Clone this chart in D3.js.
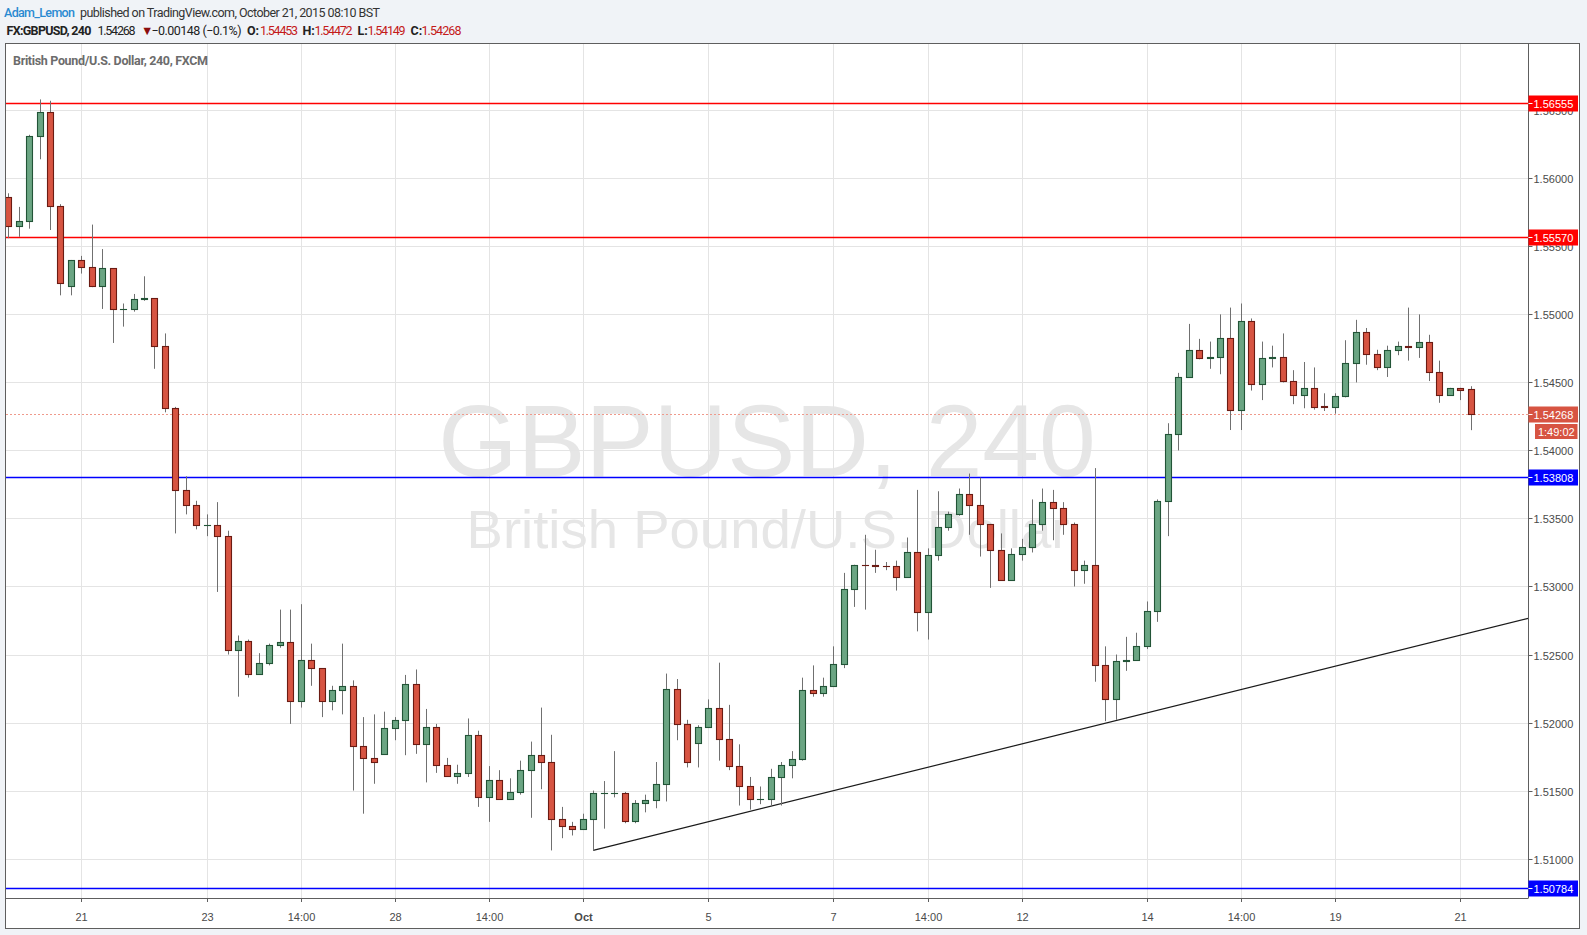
<!DOCTYPE html>
<html><head><meta charset="utf-8">
<script src="https://cdn.jsdelivr.net/npm/d3@7"></script>
<style>
html,body{margin:0;padding:0;background:#f0f3f7;}
svg{display:block;}
</style></head><body>
<svg id="chart" width="1587" height="935"></svg>
<script>
// ---------------- DATA ----------------
const firstBar = -7; // bar index of first candle (0 = first 4h bar of 21 Sep)
const opens = [
1.5586,1.5565,1.5569,1.5631,1.5649,1.5580,1.5521,
1.5540,1.5535,1.5521,1.5534,1.5504,1.5504,1.5511,1.5512,1.5477,1.5431,1.5371,1.5360,
1.5345,1.5345,1.5337,1.5253,1.5260,1.5236,1.5244,1.5257,1.5259,1.5216,1.5246,1.5240,
1.5216,1.5224,1.5227,1.5183,1.5174,1.5177,1.5196,1.5202,1.5228,1.5184,1.5197,1.5169,
1.5161,1.5163,1.5191,1.5145,1.5158,1.5144,1.5149,1.5165,1.5176,1.5171,1.5129,1.5124,
1.5122,1.5129,1.5148,1.5148,1.5148,1.5128,1.5141,1.5143,1.5155,1.5225,1.5199,1.5185,
1.5197,1.5211,1.5188,1.5168,1.5153,1.5144,1.5144,1.5160,1.5169,1.5173,1.5224,1.5222,
1.5227,1.5243,1.5298,1.5316,1.5316,1.5315,1.5315,1.5307,1.5325,1.5281,1.5323,1.5344,
1.5353,1.5368,1.5360,1.5346,1.5327,1.5305,1.5324,1.5329,1.5346,1.5362,1.5358,1.5346,
1.5312,1.5316,1.5242,1.5217,1.5245,1.5246,1.5256,1.5282,1.5363,1.5412,1.5454,1.5474,
1.5468,1.5469,1.5483,1.5430,1.5495,1.5449,1.5468,1.5469,1.5451,1.5441,1.5446,1.5433,
1.5432,1.5440,1.5464,1.5487,1.5471,1.5461,1.5474,1.5477,1.5476,1.5480,1.5458,1.5441,
1.5446,1.54453];
const highs = [
1.5589,1.5579,1.5632,1.5658,1.5657,1.5581,1.5540,
1.5543,1.5566,1.5548,1.5534,1.5508,1.5515,1.5528,1.5512,1.5486,1.5432,1.5381,1.5363,
1.5353,1.5362,1.5341,1.5264,1.5261,1.5251,1.5258,1.5283,1.5283,1.5287,1.5258,1.5240,
1.5227,1.5258,1.5231,1.5204,1.5206,1.5208,1.5204,1.5235,1.5239,1.5210,1.5199,1.5174,
1.5169,1.5203,1.5194,1.5168,1.5165,1.5159,1.5172,1.5186,1.5211,1.5191,1.5138,1.5127,
1.5133,1.5150,1.5157,1.5179,1.5149,1.5143,1.5147,1.5171,1.5236,1.5232,1.5202,1.5198,
1.5217,1.5244,1.5213,1.5184,1.5160,1.5153,1.5166,1.5171,1.5179,1.5233,1.5242,1.5233,
1.5256,1.5310,1.5316,1.5338,1.5327,1.5318,1.5319,1.5336,1.5371,1.5328,1.5370,1.5355,
1.5372,1.5383,1.5380,1.5346,1.5339,1.5328,1.5335,1.5364,1.5372,1.5371,1.5362,1.5347,
1.5319,1.5387,1.5256,1.5250,1.5263,1.5266,1.5289,1.5364,1.5420,1.5457,1.5493,1.5482,
1.5480,1.5500,1.5505,1.5508,1.5497,1.5480,1.5477,1.5486,1.5459,1.5465,1.5461,1.5442,
1.5442,1.5481,1.5496,1.5490,1.5474,1.5477,1.5480,1.5505,1.5500,1.5485,1.5466,1.5446,
1.5446,1.54472];
const lows = [
1.5556,1.5557,1.5563,1.5614,1.5562,1.5514,1.5514,
1.5530,1.5520,1.5504,1.5479,1.5491,1.5502,1.5510,1.5460,1.5428,1.5339,1.5353,1.5342,
1.5337,1.5296,1.5250,1.5219,1.5233,1.5236,1.5242,1.5255,1.5199,1.5211,1.5227,1.5204,
1.5209,1.5206,1.5150,1.5133,1.5155,1.5177,1.5187,1.5176,1.5177,1.5156,1.5163,1.5160,
1.5155,1.5160,1.5138,1.5127,1.5144,1.5144,1.5147,1.5130,1.5151,1.5106,1.5115,1.5117,
1.5122,1.5106,1.5122,1.5145,1.5126,1.5126,1.5134,1.5137,1.5142,1.5187,1.5167,1.5167,
1.5197,1.5172,1.5165,1.5139,1.5136,1.5140,1.5139,1.5139,1.5159,1.5172,1.5219,1.5219,
1.5227,1.5240,1.5285,1.5283,1.5310,1.5312,1.5297,1.5307,1.5267,1.5261,1.5319,1.5341,
1.5352,1.5338,1.5322,1.5299,1.5305,1.5305,1.5319,1.5325,1.5341,1.5334,1.5338,1.5300,
1.5302,1.5230,1.5201,1.5202,1.5238,1.5246,1.5254,1.5274,1.5337,1.5400,1.5454,1.5467,
1.5460,1.5456,1.5415,1.5415,1.5444,1.5437,1.5461,1.5450,1.5434,1.5431,1.5430,1.5429,
1.5427,1.5439,1.5450,1.5463,1.5459,1.5454,1.5470,1.5466,1.5468,1.5451,1.5435,1.5440,
1.5437,1.54149];
const closes = [
1.5565,1.5569,1.5631,1.5649,1.5580,1.5523,1.5540,
1.5535,1.5521,1.5534,1.5504,1.55041,1.5511,1.5512,1.5477,1.5431,1.5371,1.5360,1.5345,
1.53451,1.5337,1.5253,1.5260,1.5236,1.5244,1.5257,1.5259,1.5216,1.5246,1.5240,1.5216,
1.5224,1.5227,1.5183,1.5174,1.5171,1.5196,1.5202,1.5228,1.5184,1.5197,1.5169,1.5161,
1.5163,1.5191,1.5145,1.5158,1.5144,1.5149,1.5165,1.5176,1.5171,1.5129,1.5124,1.5122,
1.5129,1.5148,1.51481,1.51481,1.5128,1.5141,1.5143,1.5155,1.5225,1.5199,1.5171,1.5197,
1.5211,1.5188,1.5168,1.5153,1.5144,1.51441,1.5160,1.5169,1.5173,1.5224,1.5222,1.5227,
1.5243,1.5298,1.5316,1.53159,1.5315,1.53149,1.5307,1.5325,1.5281,1.5323,1.5344,1.5353,
1.5368,1.5360,1.5346,1.5327,1.5305,1.5324,1.5329,1.5346,1.5362,1.5358,1.5346,1.5312,
1.5316,1.5242,1.5217,1.5245,1.5246,1.5256,1.5282,1.5363,1.5412,1.5454,1.5474,1.5468,
1.5469,1.5483,1.5430,1.5495,1.5449,1.5468,1.5469,1.5451,1.5441,1.5446,1.5432,1.5432,
1.5440,1.5464,1.5487,1.5471,1.5461,1.5474,1.5477,1.5476,1.5480,1.5458,1.5441,1.5446,
1.54445,1.54268];

const tickBars   = [0,12,21,30,39,48,60,72,81,90,102,111,120,132];
const tickLabels = ["21","23","14:00","28","14:00","Oct","5","7","14:00","12","14","14:00","19","21"];
const boldTicks  = ["Oct"];
const priceTicks = [1.510,1.515,1.520,1.525,1.530,1.535,1.540,1.545,1.550,1.555,1.560,1.565];
const redLevels  = [1.56555, 1.55570];
const blueLevels = [1.53808, 1.50784];
const trendBars   = [49, 138.5];
const trendPrices = [1.51061, 1.52766];
const lastPrice = 1.54268;
const countdown = "1:49:02";
const symbolTitle = "British Pound/U.S. Dollar, 240, FXCM";
const watermark1 = "GBPUSD, 240";
const watermark2 = "British Pound/U.S. Dollar";

// ---------------- LAYOUT ----------------
const frame = {x:5.5, y:43.5, r:1579.5, b:928.5};
const plot = {l:6, r:1528.5, t:44, b:898};
const svg = d3.select("#chart");
const AX = "Liberation Sans, Arial, sans-serif";
const HF = "Roboto, 'Noto Sans', sans-serif";

const x = d3.scaleLinear().domain([0, 132]).range([81.3, 1460.3]);
const y = d3.scaleLinear().domain([1.51, 1.565]).range([858.6, 110.3]);
const fmt = d3.format(".5f");

const bars = opens.map((o,k)=>({i:firstBar+k, o, h:highs[k], l:lows[k], c:closes[k]}));

// header
const hdr = svg.append("g").attr("font-family", HF).attr("font-size", 12.5);
hdr.append("text").attr("x",4).attr("y",16.5).attr("fill","#2a8ad1").attr("font-weight",500)
  .attr("textLength",71).attr("lengthAdjust","spacing").text("Adam_Lemon");
hdr.append("text").attr("x",80).attr("y",16.5).attr("fill","#333").attr("textLength",300).attr("lengthAdjust","spacing")
  .text("published on TradingView.com, October 21, 2015 08:10 BST");
const l2y = 35;
function seg(x0, txt, opt={}) {
  const t = hdr.append("text").attr("x",x0).attr("y",l2y).attr("fill",opt.fill||"#222")
    .attr("font-weight",opt.bold?700:400).text(txt);
  if (opt.len) t.attr("textLength",opt.len).attr("lengthAdjust","spacing");
  return t;
}
seg(6.5, "FX:GBPUSD, 240", {bold:true, len:85});
seg(97.5, "1.54268", {len:38});
seg(141, "▼", {fill:"#8b0d0d"});
seg(151.5, "−0.00148 (−0.1%)", {len:90});
seg(247, "O:", {bold:true});
seg(260, "1.54453", {fill:"#c41a1a", len:38});
seg(302.5, "H:", {bold:true});
seg(314.5, "1.54472", {fill:"#c41a1a", len:38});
seg(357.5, "L:", {bold:true});
seg(367.5, "1.54149", {fill:"#c41a1a", len:38});
seg(410.5, "C:", {bold:true});
seg(421.5, "1.54268", {fill:"#c41a1a", len:40});

// frame
svg.append("rect").attr("x",frame.x).attr("y",frame.y).attr("width",frame.r-frame.x).attr("height",frame.b-frame.y)
  .attr("fill","#fff").attr("stroke","#5e5e5e").attr("stroke-width",1);

// clip
svg.append("clipPath").attr("id","plotclip").append("rect")
  .attr("x",plot.l).attr("y",plot.t).attr("width",plot.r-plot.l).attr("height",plot.b-plot.t);
const pg = svg.append("g").attr("clip-path","url(#plotclip)");

// watermark
pg.append("text").attr("x",767).attr("y",476).attr("text-anchor","middle").attr("font-family",AX)
  .attr("font-size",102).attr("fill","#e6e6e6").text(watermark1);
pg.append("text").attr("x",768).attr("y",548).attr("text-anchor","middle").attr("font-family",AX)
  .attr("font-size",54.5).attr("fill","#e6e6e6").text(watermark2);

// grid
pg.selectAll("line.hg").data(priceTicks).join("line").attr("class","hg")
  .attr("x1",plot.l).attr("x2",plot.r).attr("y1",d=>Math.round(y(d))+0.5).attr("y2",d=>Math.round(y(d))+0.5)
  .attr("stroke","#e4e4e4");
pg.selectAll("line.vg").data(tickBars).join("line").attr("class","vg")
  .attr("x1",d=>Math.round(x(d))+0.5).attr("x2",d=>Math.round(x(d))+0.5).attr("y1",plot.t).attr("y2",plot.b)
  .attr("stroke","#e4e4e4");

// title
svg.append("text").attr("x",13).attr("y",65).attr("font-family",HF).attr("font-size",12.5).attr("font-weight",700)
  .attr("fill","#6c6c6c").attr("textLength",195).attr("lengthAdjust","spacing").text(symbolTitle);

// levels
redLevels.forEach(v=>pg.append("line").attr("x1",plot.l).attr("x2",plot.r)
  .attr("y1",Math.round(y(v))+0.5).attr("y2",Math.round(y(v))+0.5).attr("stroke","#ff0000").attr("stroke-width",1.3));
blueLevels.forEach(v=>pg.append("line").attr("x1",plot.l).attr("x2",plot.r)
  .attr("y1",Math.round(y(v))+0.5).attr("y2",Math.round(y(v))+0.5).attr("stroke","#0000ff").attr("stroke-width",1.3));
pg.append("line").attr("x1",plot.l).attr("x2",plot.r)
  .attr("y1",Math.round(y(lastPrice))+0.5).attr("y2",Math.round(y(lastPrice))+0.5)
  .attr("stroke","#ef9a8c").attr("stroke-dasharray","2,2");

// trend line
pg.append("line").attr("x1",x(trendBars[0])).attr("y1",y(trendPrices[0]))
  .attr("x2",x(trendBars[1])).attr("y2",y(trendPrices[1])).attr("stroke","#1a1a1a").attr("stroke-width",1.2);

// candles
const cg = pg.append("g");
const up = d=>d.c>=d.o;
cg.selectAll("line.wick").data(bars).join("line").attr("class","wick")
  .attr("x1",d=>Math.round(x(d.i))+0.5).attr("x2",d=>Math.round(x(d.i))+0.5)
  .attr("y1",d=>y(d.h)).attr("y2",d=>y(d.l)).attr("stroke","#707070").attr("stroke-width",1);
cg.selectAll("rect.body").data(bars).join("rect").attr("class","body")
  .attr("x",d=>Math.round(x(d.i))-2.5).attr("width",6)
  .attr("y",d=>Math.round(y(Math.max(d.o,d.c)))+0.5)
  .attr("height",d=>Math.max(0.01, Math.round(y(Math.min(d.o,d.c)))-Math.round(y(Math.max(d.o,d.c)))))
  .attr("fill",d=>up(d)?"#6ba583":"#d75442")
  .attr("stroke",d=>up(d)?"#225437":"#6b1b13").attr("stroke-width",1.1);

// axes lines
svg.append("line").attr("x1",plot.r).attr("x2",plot.r).attr("y1",frame.y).attr("y2",plot.b).attr("stroke","#5e5e5e");
svg.append("line").attr("x1",frame.x).attr("x2",plot.r).attr("y1",plot.b+0.5).attr("y2",plot.b+0.5).attr("stroke","#5e5e5e");

// y axis
const ya = svg.append("g").attr("font-family",AX).attr("font-size",11);
priceTicks.forEach(v=>{
  const yy = Math.round(y(v))+0.5;
  ya.append("line").attr("x1",plot.r).attr("x2",plot.r+4).attr("y1",yy).attr("y2",yy).attr("stroke","#5e5e5e");
  ya.append("text").attr("x",1533.5).attr("y",yy+4).attr("fill","#4a4a4a").text(fmt(v));
});
function tag(v, fill, txt) {
  const yy = Math.round(y(v))+0.5;
  ya.append("rect").attr("x",plot.r).attr("y",yy-8).attr("width",1578-plot.r).attr("height",16).attr("fill",fill);
  ya.append("line").attr("x1",plot.r).attr("x2",plot.r+4).attr("y1",yy).attr("y2",yy).attr("stroke","#fff");
  ya.append("text").attr("x",1533.5).attr("y",yy+4).attr("fill","#fff").text(txt);
}
redLevels.forEach(v=>tag(v,"#ff0000",fmt(v)));
blueLevels.forEach(v=>tag(v,"#0000ff",fmt(v)));
tag(lastPrice,"#d75442",fmt(lastPrice));
{
  const yy = Math.round(y(lastPrice))+0.5;
  ya.append("rect").attr("x",1535).attr("y",yy+9.5).attr("width",42.5).attr("height",15).attr("fill","#d75442");
  ya.append("text").attr("x",1556.3).attr("y",yy+21).attr("text-anchor","middle").attr("fill","#fff").text(countdown);
}

// x axis
const xa = svg.append("g").attr("font-family",AX).attr("font-size",11);
tickBars.forEach((b,k)=>{
  const xx = Math.round(x(b))+0.5;
  xa.append("line").attr("x1",xx).attr("x2",xx).attr("y1",plot.b).attr("y2",plot.b+4).attr("stroke","#5e5e5e");
  xa.append("text").attr("x",xx).attr("y",921).attr("text-anchor","middle").attr("fill","#4a4a4a")
    .attr("font-weight",boldTicks.includes(tickLabels[k])?700:400).text(tickLabels[k]);
});
</script>
</body></html>
